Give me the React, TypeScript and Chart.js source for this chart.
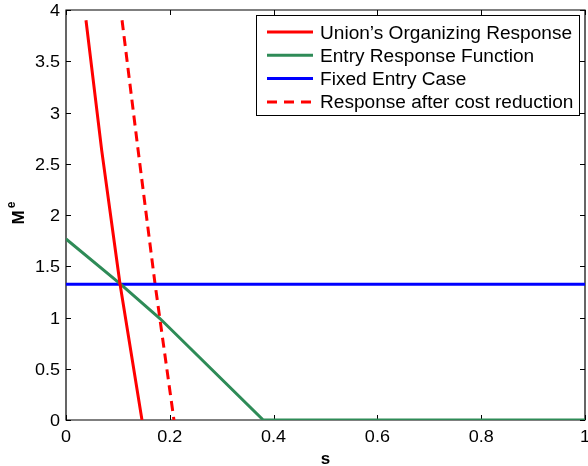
import React, { useEffect, useRef } from 'react';
import { Chart, registerables } from 'chart.js';

Chart.register(...registerables);

const seriesNames = [
  'Union’s Organizing Response',
  'Entry Response Function',
  'Fixed Entry Case',
  'Response after cost reduction',
];
const seriesColors = ['#ff0000', '#2e8b57', '#0000ff', '#ff0000'];
const seriesDashed = [false, false, false, true];

const unionS = [0.0385, 0.0688, 0.104, 0.1464];
const unionM = [3.9, 2.63, 1.33, 0];
const entryS = [0, 0.104, 0.181, 0.38, 1];
const entryM = [1.766, 1.33, 0.99, 0, 0];
const fixedS = [0, 1];
const fixedM = [1.325, 1.325];
const reducedS = [0.108, 0.139, 0.1715, 0.208];
const reducedM = [3.9, 2.63, 1.33, 0];

const xTickValues = [0, 0.2, 0.4, 0.6, 0.8, 1];
const xTickLabels = ['0', '0.2', '0.4', '0.6', '0.8', '1'];
const yTickValues = [0, 0.5, 1, 1.5, 2, 2.5, 3, 3.5, 4];
const yTickLabels = ['0', '0.5', '1', '1.5', '2', '2.5', '3', '3.5', '4'];
const xTitle = 's';
const yTitle = 'M';
const yTitleSup = 'e';

const FONT = '"Liberation Sans", Arial, Helvetica, sans-serif';
const SX = 1.06;

const toPts = (xs: number[], ys: number[]) => xs.map((x, i) => ({ x, y: ys[i] }));

function drawText(ctx: CanvasRenderingContext2D, text: string, x: number, y: number, align: CanvasTextAlign, sx = SX) {
  ctx.save();
  ctx.translate(x, y);
  ctx.scale(sx, 1);
  ctx.textAlign = align;
  ctx.textBaseline = 'alphabetic';
  ctx.fillText(text, 0, 0);
  ctx.restore();
}

const matlabPlugin = {
  id: 'matlabFrame',
  beforeDatasetsDraw(chart: any) {
    const { ctx, chartArea: a, scales } = chart;
    const xs = scales.x;
    const ys = scales.y;
    ctx.save();
    ctx.strokeStyle = '#000';
    ctx.lineWidth = 1.2;
    ctx.beginPath();
    ctx.rect(a.left, a.top, a.right - a.left, a.bottom - a.top);
    ctx.stroke();
    ctx.lineWidth = 1;
    ctx.beginPath();
    for (const v of xTickValues) {
      const px = Math.round(xs.getPixelForValue(v)) + 0.5;
      ctx.moveTo(px, a.bottom);
      ctx.lineTo(px, a.bottom - 5);
      ctx.moveTo(px, a.top);
      ctx.lineTo(px, a.top + 5);
    }
    for (const v of yTickValues) {
      const py = Math.round(ys.getPixelForValue(v)) + 0.5;
      ctx.moveTo(a.left, py);
      ctx.lineTo(a.left + 5, py);
      ctx.moveTo(a.right, py);
      ctx.lineTo(a.right - 5, py);
    }
    ctx.stroke();

    ctx.fillStyle = '#000';
    ctx.font = `17px ${FONT}`;
    xTickValues.forEach((v, i) => {
      drawText(ctx, xTickLabels[i], xs.getPixelForValue(v), a.bottom + 22, 'center');
    });
    yTickValues.forEach((v, i) => {
      drawText(ctx, yTickLabels[i], a.left - 6, ys.getPixelForValue(v) + 6, 'right');
    });

    // x title
    ctx.font = `bold 17px ${FONT}`;
    drawText(ctx, xTitle, (a.left + a.right) / 2, 464, 'center', 1);

    // y title rotated with superscript
    ctx.save();
    ctx.translate(18, 214);
    ctx.rotate(-Math.PI / 2);
    ctx.font = `bold 17px ${FONT}`;
    ctx.textBaseline = 'alphabetic';
    ctx.textAlign = 'left';
    const wM = ctx.measureText(yTitle).width;
    ctx.font = `bold 12px ${FONT}`;
    const wE = ctx.measureText(yTitleSup).width;
    const start = -(wM + wE) / 2;
    ctx.font = `bold 17px ${FONT}`;
    ctx.fillText(yTitle, start, 6);
    ctx.font = `bold 12px ${FONT}`;
    ctx.fillText(yTitleSup, start + wM + 2, -3);
    ctx.restore();

    ctx.restore();
  },
  afterDatasetsDraw(chart: any) {
    const { ctx } = chart;
    ctx.save();
    const bx = 256.5, by = 15.5, bw = 323, bh = 100;
    ctx.fillStyle = '#fff';
    ctx.fillRect(bx, by, bw, bh);
    ctx.strokeStyle = '#000';
    ctx.lineWidth = 1;
    ctx.strokeRect(bx, by, bw, bh);
    ctx.font = `18px ${FONT}`;
    seriesNames.forEach((name, i) => {
      const ry = 32 + i * 23.3;
      ctx.strokeStyle = seriesColors[i];
      ctx.lineWidth = 3;
      ctx.setLineDash(seriesDashed[i] ? [10, 7] : []);
      ctx.beginPath();
      ctx.moveTo(267, ry);
      ctx.lineTo(313, ry);
      ctx.stroke();
      ctx.setLineDash([]);
      ctx.fillStyle = '#000';
      drawText(ctx, name, 320, ry + 6.5, 'left');
    });
    ctx.restore();
  },
};

export default function App() {
  const ref = useRef<HTMLCanvasElement>(null);
  useEffect(() => {
    document.body.style.margin = '0';
    const canvas = ref.current;
    if (!canvas) return;
    const datasets = [
      { pts: toPts(unionS, unionM) },
      { pts: toPts(entryS, entryM) },
      { pts: toPts(fixedS, fixedM) },
      { pts: toPts(reducedS, reducedM) },
    ].map((d, i) => ({
      label: seriesNames[i],
      data: d.pts,
      showLine: true,
      borderColor: seriesColors[i],
      backgroundColor: seriesColors[i],
      borderWidth: 3,
      borderDash: seriesDashed[i] ? [10, 6] : [],
      pointRadius: 0,
      tension: 0,
      fill: false,
    }));
    const chart = new Chart(canvas, {
      type: 'scatter',
      data: { datasets },
      options: {
        animation: false,
        responsive: false,
        devicePixelRatio: 1,
        layout: { padding: { top: 10, right: 3, left: 0, bottom: 0 } },
        plugins: { legend: { display: false }, tooltip: { enabled: false } },
        scales: {
          x: {
            type: 'linear',
            min: 0,
            max: 1,
            ticks: { display: false },
            grid: { display: false },
            border: { display: false },
            afterFit: (s: any) => { s.height = 46; },
          },
          y: {
            type: 'linear',
            min: 0,
            max: 4,
            ticks: { display: false },
            grid: { display: false },
            border: { display: false },
            afterFit: (s: any) => { s.width = 66; },
          },
        },
      },
      plugins: [matlabPlugin],
    } as any);
    return () => chart.destroy();
  }, []);
  return (
    <div style={{ position: 'absolute', left: 0, top: 0, width: 588, height: 466, background: '#fff' }}>
      <canvas ref={ref} width={588} height={466} />
    </div>
  );
}
